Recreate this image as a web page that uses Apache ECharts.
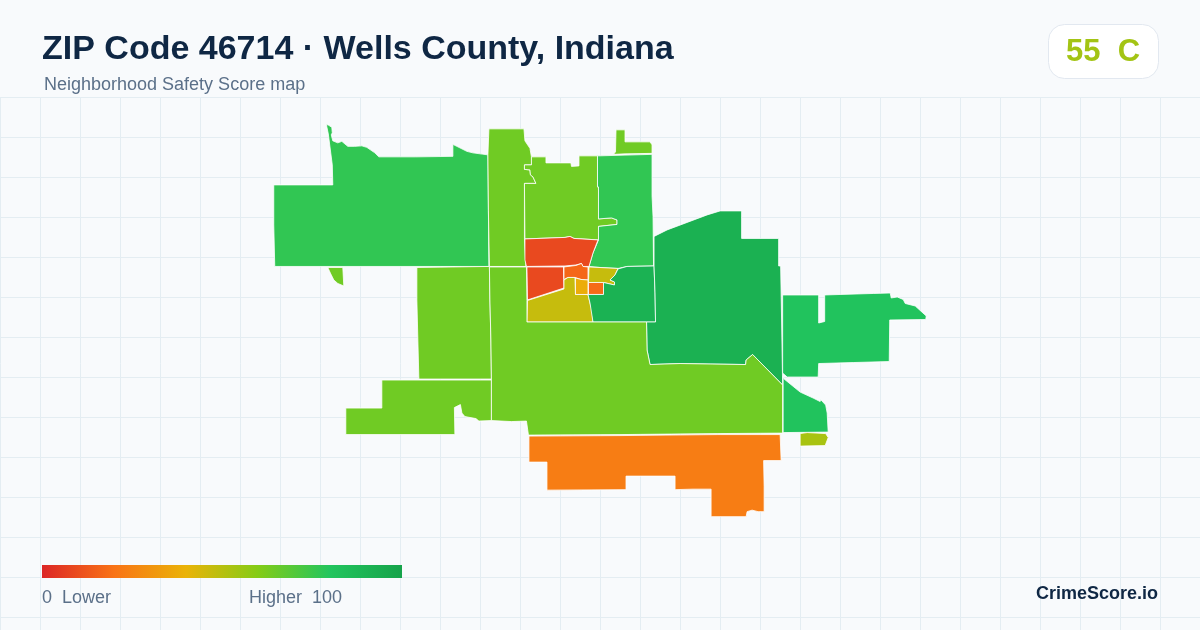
<!DOCTYPE html>
<html>
<head>
<meta charset="utf-8">
<style>html,body{margin:0;padding:0;background:#f8fafc}#chart{width:1200px;height:630px}</style>
<script src="https://cdn.jsdelivr.net/npm/echarts@6/dist/echarts.min.js"></script>
</head>
<body>
<div id="chart"></div>
<script>
// Scores per area of the ZIP code
const areaNames = ['West','SW Sliver','Mid West','Low West','North Column','North Middle','North East','NE Tip','Town North','Town West','Town Core','Town South','Town Yellow','Town Orange','Town East','East Central','East Large','South Middle','South','Far East','SE Pocket','SE Tip'];
const areaScores = [77,64,64,64,64,64,77,64,9,9,17,47,38,18,47,91,92,64,23,81,81,53];
const legendColors = ['#dc2626','#f97316','#eab308','#84cc16','#22c55e','#16a34a'];
const scaleMin = 0, scaleMax = 100;
// Traced outlines of the areas
const areaOutlines = [
 [[326.5,124.5],[329,125.5],[332,127.5],[332.5,133],[331.5,135],[333,141],[338,143],[342,141.5],[348,146.5],[355,146.5],[362,146],[367,147.5],[375,153],[379,157],[416,157],[453,156.5],[453,144.5],[460,148],[467,151.5],[473,153],[488,155],[488.5,211],[489,266.5],[275,266.5],[274,225],[274,185],[333,185],[332.5,165],[328.5,134]],
 [[328,267.5],[343,267.5],[344,286],[338,283.5],[334,280],[331,274]],
 [[417,267.5],[453,267],[489.5,266.5],[490,300],[491,340],[491.5,379],[419,379],[418,340],[417,300]],
 [[382,380],[491.5,380],[491.5,420.5],[479,421],[476,418.5],[465,416.5],[462,413],[460.5,404.5],[454.5,407.5],[455,434.5],[346,434.5],[346,408],[382,408]],
 [[489,129],[524,129],[525,141],[530,148.5],[531.5,157],[531.5,165],[524.5,165],[524.5,169.5],[530,170],[530.5,175],[533,177],[536,183.5],[524.5,183.5],[524.5,238.5],[525,250],[526,266.5],[489.5,266.5],[488.5,211],[488,155]],
 [[531.5,157],[546,157],[546,163],[571,163],[571.5,166.5],[579,166],[579,156],[597.5,156],[597.5,187],[598.5,187],[598.5,219],[611.5,218],[617,220],[617,224.5],[598.5,226.5],[598.5,240],[574,238.5],[570,236.5],[565,237.5],[525,239],[524.5,183.5],[536,183.5],[533,177],[530.5,175],[530,170],[524.5,169.5],[524.5,165],[531.5,165]],
 [[598.5,156],[652,154.5],[652,196],[653,217],[653.5,266],[627,266.5],[618,268.5],[600,267.5],[589,266.5],[593,253],[598.5,240],[598.5,226.5],[617,224.5],[617,220],[611.5,218],[598.5,219],[598.5,187],[597.5,187],[597.5,156]],
 [[616,130],[625,130],[625,142],[650,142],[652,145],[652,153.5],[625,154],[613.5,154.5],[615.5,152]],
 [[525,239],[565,237.5],[570,236.5],[574,238.5],[598,240],[593,253],[589,266.5],[583,266.5],[581.5,263.5],[576,265],[565,266],[526.5,266.5],[525,260]],
 [[527,267],[563.5,267],[564,288],[527.5,300]],
 [[564,267],[576,265.5],[581.5,263.5],[583,266.5],[588,267],[588,280],[581,279.5],[575,277.5],[568,277.5],[564,279.5]],
 [[527.5,300.5],[564,289],[564,280],[568,277.5],[575,277.5],[575.5,294.5],[588,294.5],[590,303],[592,310],[593,322],[527,322]],
 [[575.5,278],[581,279.5],[588,280],[588,294.5],[575.5,294.5]],
 [[588.5,282.5],[603.5,282.5],[603.5,294.5],[588.5,294.5]],
 [[589,267],[618,268.5],[615,275],[610,280],[614.5,282],[614.5,285],[603.5,282.5],[588.5,282.5]],
 [[618,269],[627,266.5],[654,266],[655,293],[655.5,322],[593,322],[590,303],[588,294.5],[603.5,294.5],[603.5,282.5],[614.5,285],[614.5,282],[610,280],[615,275]],
 [[654,236.5],[667,230],[707,215],[720,211],[741.5,211],[741.5,238.5],[778.5,238.5],[778.5,266],[780.5,266],[781.5,322],[782.5,385],[752.5,354.5],[746,360],[745.5,364.5],[710,364],[680,363.5],[650,364.5],[647,350],[646.5,322],[655.5,322],[655,293],[654,266]],
 [[489.5,267],[526.5,267],[527,300.5],[527,322],[593,322],[646.5,322],[647,350],[650,364.5],[680,363.5],[710,364],[745.5,364.5],[746,360],[752.5,354.5],[782.5,385],[782.5,433],[717,433.5],[620,434.5],[528.5,435],[526.5,421],[511.5,421.5],[491.5,420.5],[491.5,379],[491,340],[490,300]],
 [[529,436],[620,435.5],[717,434.5],[780,434.5],[781,460.5],[763.5,460.5],[764,486],[764,511.5],[758,511.5],[752,510],[747,511.5],[746,516.5],[711,516.5],[711,489],[693,489],[675,489.5],[675,476],[626,476],[626,489.5],[547,490],[547,462],[529,462]],
 [[782.5,295],[818.5,295],[818.5,323],[824.5,321.5],[824.5,295],[840,294.5],[873,293.5],[890,293],[891,298],[897,297],[903,299.5],[905,303.5],[915,306],[926,316],[925.5,319.5],[889.5,320],[889,361.5],[853,362.5],[818.5,363.5],[818,377],[787,377],[782.5,373]],
 [[783,376],[784,379],[800,392],[813,398],[820,401.5],[820.5,399.5],[825.5,405],[827,413],[828,432],[783,432.5]],
 [[800,433.5],[807,432.5],[825.5,433.5],[828,437.5],[825,445.5],[800,446]]
];

const geoJson = {
  type: 'FeatureCollection',
  features: areaNames.map((name, i) => ({
    type: 'Feature',
    properties: { name },
    geometry: { type: 'Polygon', coordinates: [areaOutlines[i].concat([areaOutlines[i][0]])] }
  }))
};
echarts.registerMap('zip46714', geoJson);

const chart = echarts.init(document.getElementById('chart'), null, { renderer: 'canvas' });
const FONT = '"Liberation Sans", Arial, sans-serif';
const NAVY = '#0f2744', SLATE = '#5b7089';
const gridLine = { show: true, lineStyle: { color: '#e4edf2', width: 1 } };
const hiddenAxis = { axisLine: { show: false }, axisTick: { show: false }, axisLabel: { show: false }, splitLine: gridLine };

chart.setOption({
  animation: false,
  backgroundColor: '#f8fafc',
  tooltip: { show: false },
  title: [
    { text: 'ZIP Code 46714 · Wells County, Indiana', left: 42, top: 33, padding: 0,
      textStyle: { fontFamily: FONT, fontSize: 34, fontWeight: 'bold', color: NAVY } },
    { text: 'Neighborhood Safety Score map', left: 44, top: 76, padding: 0,
      textStyle: { fontFamily: FONT, fontSize: 18, fontWeight: 'normal', color: SLATE } }
  ],
  grid: { left: 0, right: 0, top: 97, bottom: 0 },
  xAxis: Object.assign({ type: 'value', min: 0, max: 1200, interval: 40 }, hiddenAxis),
  yAxis: Object.assign({ type: 'value', min: 0, max: 533, interval: 40, inverse: true }, hiddenAxis),
  visualMap: {
    type: 'continuous', min: scaleMin, max: scaleMax, show: false,
    seriesIndex: 0, inRange: { color: legendColors }
  },
  series: [{
    type: 'map', map: 'zip46714', roam: false, silent: true, z: 5,
    projection: { project: p => p, unproject: p => p },
    layoutCenter: [600, 320.5], layoutSize: 652.5,
    label: { show: false },
    itemStyle: { borderColor: '#ffffff', borderWidth: 0.8, borderJoin: 'miter', borderMiterLimit: 10 },
    data: areaNames.map((name, i) => ({ name, value: areaScores[i] }))
  }],
  graphic: [
    { type: 'rect', shape: { x: 42, y: 565, width: 360, height: 13 }, z: 10,
      style: { fill: new echarts.graphic.LinearGradient(0, 0, 1, 0,
        legendColors.map((color, i) => ({ offset: i / (legendColors.length - 1), color }))) } },
    { type: 'rect', shape: { x: 1048.5, y: 24.5, width: 110, height: 54, r: 16 },
      style: { fill: '#ffffff', stroke: '#e2e8f0', lineWidth: 1 }, z: 10 },
    { type: 'text', x: 1103, y: 52, z: 11,
      style: { text: '55  C', font: 'bold 31px ' + FONT, fill: '#a3c414', align: 'center', verticalAlign: 'middle' } },
    { type: 'text', x: 42, y: 598, z: 11,
      style: { text: '0  Lower', font: '18px ' + FONT, fill: SLATE, align: 'left', verticalAlign: 'middle' } },
    { type: 'text', x: 249, y: 598, z: 11,
      style: { text: 'Higher  100', font: '18px ' + FONT, fill: SLATE, align: 'left', verticalAlign: 'middle' } },
    { type: 'text', x: 1158, y: 594, z: 11,
      style: { text: 'CrimeScore.io', font: 'bold 18px ' + FONT, fill: NAVY, align: 'right', verticalAlign: 'middle' } }
  ]
});
</script>
</body>
</html>
